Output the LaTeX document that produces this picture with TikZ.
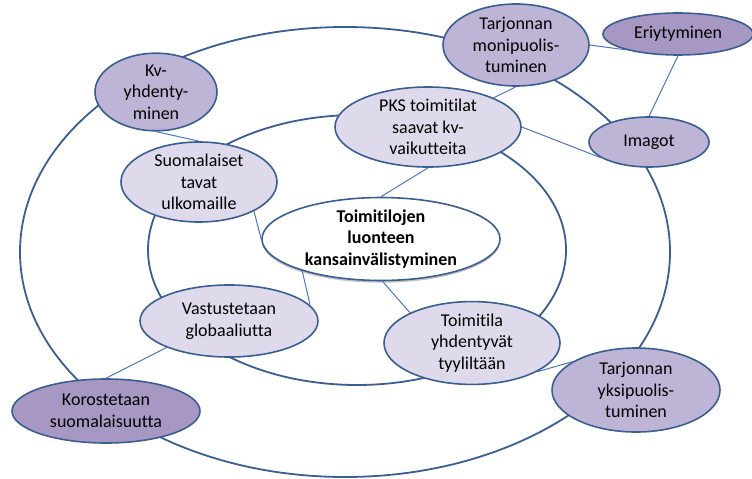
\documentclass[tikz,border=0pt]{standalone}
\usepackage{fontspec}
\setmainfont{Carlito}[Ligatures=NoCommon]
\usepackage{tikz}
\usetikzlibrary{shapes.geometric, shadows}
\definecolor{RingColour}{RGB}{59,94,146}
\definecolor{LinkColour}{RGB}{74,120,192}
\definecolor{palelilac}{RGB}{222,218,235}
\definecolor{lilac}{RGB}{190,180,214}
\definecolor{darklilac}{RGB}{167,151,195}

\begin{document}
\begin{tikzpicture}[x=1pt, y=-1pt, font=\fontsize{18}{21.6}\selectfont,
  ring/.style={draw=RingColour, line width=1.8pt},
  topic/.style={ellipse, draw=RingColour, line width=1.6pt, inner sep=0pt, align=center},
  link/.style={draw=LinkColour, line width=1pt}]
  \useasboundingbox (0,0) rectangle (752,479);

  % rings
  \draw[ring] (345,252) ellipse [x radius=325pt, y radius=225pt];
  \draw[ring] (357,250) ellipse [x radius=209pt, y radius=135pt];

  % core
  \node[topic, fill=white, minimum width=238pt, minimum height=82pt,
        font=\fontsize{18}{21.6}\selectfont\bfseries,
        drop shadow={shadow xshift=0pt, shadow yshift=-2.2pt, fill=black!35, opacity=0.7}]
        (core) at (381,239) {Toimitilojen\\luonteen\\kansainvälistyminen};

  % topics: name/x/y/width/height/fill/text
  \foreach \n/\x/\y/\w/\h/\c/\t in {kv/156/92/122/72/lilac/{Kv-\\yhdenty-\\minen},
                                   suom/199/182/156/80/palelilac/{Suomalaiset\\tavat\\ulkomaille},
                                   pks/428/127/186/80/palelilac/{PKS toimitilat\\saavat kv-\\vaikutteita},
                                   tmon/516/45/146/82/lilac/{Tarjonnan\\monipuolis-\\tuminen},
                                   eri/678/34/150/42/darklilac/{Eriytyminen},
                                   imag/649/142/120/50/lilac/{Imagot},
                                   vast/229/321/178/72/palelilac/{Vastustetaan\\globaaliutta},
                                   koro/106/411/188/64/darklilac/{Korostetaan\\suomalaisuutta},
                                   tyyl/472/343/176/82/palelilac/{Toimitila\\yhdentyvät\\tyyliltään},
                                   tyks/636/390/168/84/lilac/{Tarjonnan\\yksipuolis-\\tuminen}}
    \node[topic, fill=\c, minimum width=\w pt, minimum height=\h pt] (\n) at (\x,\y) {\t};

  % links
  \foreach \a/\b in {kv.south/suom.north, suom.-28/core.west, pks.south/core.north,
                     tmon.south/pks.24, tmon.east/eri.197, eri.south/imag.north,
                     pks.east/imag.198, core.202/vast.11, core.-88/tyyl.154,
                     vast.203/koro.north, tyyl.-24/tyks.156}
    \draw[link] (\a) -- (\b);
\end{tikzpicture}
\end{document}
